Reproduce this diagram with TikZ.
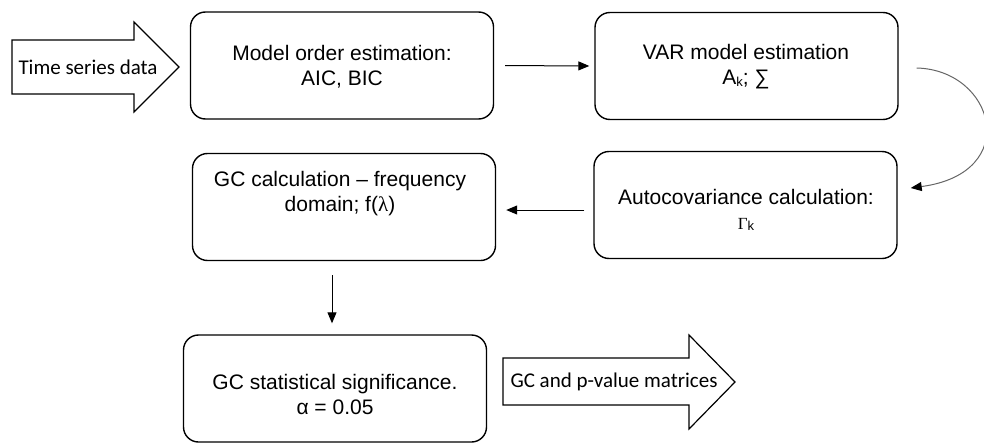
\documentclass[tikz,border=0pt]{standalone}
\usepackage{fontspec}
\setmainfont{Liberation Sans}
\newfontfamily\calfont{Carlito}
\newfontfamily\grkfont{Liberation Serif}
\usetikzlibrary{arrows.meta,calc}
\newcommand\mysubk{\raisebox{-1.5pt}{\fontsize{13}{13}\selectfont k}}
\begin{document}
\begin{tikzpicture}[x=1pt,y=-1pt,
  box/.style={draw=black, line width=1.4pt, rounded corners=15pt, minimum width=303pt, minimum height=107pt, inner sep=0pt},
  txt/.style={align=center, inner sep=0pt, font=\fontsize{21}{25}\selectfont},
  atxt/.style={inner sep=0pt, font=\calfont\fontsize{21}{24}\selectfont},
  blk/.style={draw=black, line width=1.2pt, fill=white, line join=miter},
  conn/.style={draw=black, line width=1pt, -{Triangle[length=11pt,width=9pt]}},
  curv/.style={draw=black!60, line width=1pt, -{Triangle[length=11pt,width=9pt,color=black]}}]
\useasboundingbox (0,0) rectangle (984,444);
% boxes
\node[box] (b1) at (342,65.5) {};
\node[box] (b2) at (746.5,66) {};
\node[box] (b3) at (745.5,205) {};
\node[box] (b4) at (344,207) {};
\node[box] (b5) at (335,388.5) {};
% texts
\node[txt] (t1) at (342,67) {Model order estimation:\\AIC, BIC};
\node[txt] (t2) at (746,67) {VAR model estimation\\A\mysubk; ∑};
\node[txt] (t3) at (746,210) {Autocovariance calculation:\\{\grkfont\fontsize{17}{17}\selectfont Γ}\mysubk};
\node[txt] (t4) at (340,194) {GC calculation – frequency\\domain; f({\grkfont λ})};
\node[txt] (t5) at (335,394) {GC statistical significance.\\α = 0.05};
% block arrows
\draw[blk] (12,40) -- (134,40) -- (134,22) -- (179,67) -- (134,112) -- (134,94) -- (12,94) -- cycle;
\node[atxt] (in) at (88,67) {Time series data};
\draw[blk] (503,358) -- (689,358) -- (689,335) -- (735,382) -- (689,429) -- (689,405) -- (503,405) -- cycle;
\node[atxt] (out) at (614,382) {GC and p-value matrices};
% connectors
\draw[conn, shorten <=11pt, shorten >=5pt] (b1.east) -- (b2.west);
\draw[curv] ([shift={(18,2)}]b2.east) .. controls +(78,2) and +(112,-15) .. ([shift={(13,-17)}]b3.east);
\draw[conn, shorten <=9pt, shorten >=10pt] ([yshift=-5pt]b3.west) -- ([yshift=-5pt]b3.west -| b4.east);
\draw[conn, shorten <=14pt, shorten >=11pt] ([xshift=-12pt]b4.south) -- ([xshift=-12pt]b4.south |- b5.north);
\end{tikzpicture}
\end{document}
